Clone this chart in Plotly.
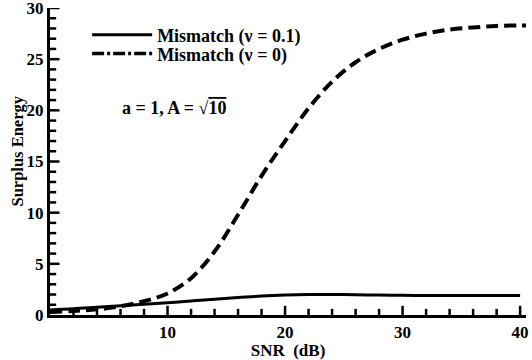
import plotly.graph_objects as go

snr = [0, 2, 4, 6, 8, 10, 12, 14, 16, 18, 20, 22, 24, 26, 28, 30, 32, 34, 36, 38, 40, 40.5]
mismatch_v0 = [0.3, 0.4, 0.55, 0.85, 1.35, 2.1, 3.6, 6.2, 9.8, 13.6, 17.0, 20.2, 22.8, 24.7, 26.0, 26.9, 27.5, 27.9, 28.1, 28.25, 28.3, 28.3]
snr_s = [0, 2, 4, 6, 8, 10, 12, 14, 16, 18, 20, 22, 24, 26, 28, 30, 32, 34, 36, 38, 40]
mismatch_v01 = [0.5, 0.6, 0.75, 0.9, 1.05, 1.2, 1.38, 1.55, 1.7, 1.85, 1.95, 2.0, 2.0, 1.98, 1.95, 1.93, 1.9, 1.9, 1.9, 1.9, 1.9]

x_ticks = [10, 20, 30, 40]
x_major = [10, 20, 30, 40]
x_minor = [2, 4, 6, 8, 12, 14, 16, 18, 22, 24, 26, 28, 32, 34, 36, 38]
y_major = [5, 10, 15, 20, 25, 30]
y_minor = [1, 2, 3, 4, 6, 7, 8, 9, 11, 12, 13, 14, 16, 17, 18, 19, 21, 22, 23, 24, 26, 27, 28, 29]
X_RANGE = [0, 40.5]
Y_RANGE = [0, 30]
FONT = "Liberation Serif"

fig = go.Figure()
fig.add_trace(go.Scatter(x=snr_s, y=mismatch_v01, mode="lines", showlegend=False,
                         line=dict(color="black", width=3, shape="spline")))
fig.add_trace(go.Scatter(x=snr, y=mismatch_v0, mode="lines", showlegend=False,
                         line=dict(color="black", width=4, shape="spline", dash="12px,6px")))
# legend entries
fig.add_trace(go.Scatter(x=[None], y=[None], mode="lines", name="Mismatch (ν = 0.1)",
                         legend="legend", line=dict(color="black", width=3)))
fig.add_trace(go.Scatter(x=[None], y=[None], mode="lines", name="Mismatch (ν = 0)",
                         legend="legend2", line=dict(color="black", width=3.5, dash="12px,3px,3px,3px")))

leg_common = dict(xanchor="left", yanchor="top", bgcolor="rgba(0,0,0,0)",
                  font=dict(family=FONT, size=18, color="black", weight="bold"), itemwidth=60)

fig.update_layout(
    template="none",
    width=532, height=360,
    margin=dict(l=50, r=6, t=7.5, b=45),
    plot_bgcolor="white", paper_bgcolor="white",
    font=dict(family=FONT, size=16, color="black"),
    showlegend=True,
    legend=dict(x=0.078, y=0.972, **leg_common),
    legend2=dict(x=0.078, y=0.911, **leg_common),
    xaxis=dict(range=X_RANGE, tickmode="array", tickvals=x_ticks, ticks="",
               showline=True, linewidth=3, linecolor="black",
               showgrid=False, zeroline=False,
               tickfont=dict(family=FONT, size=17, weight="bold"),
               title=dict(text="SNR  (dB)", font=dict(family=FONT, size=17, weight="bold"), standoff=1)),
    yaxis=dict(range=Y_RANGE, tickmode="linear", tick0=0, dtick=5, ticks="",
               showline=True, linewidth=3, linecolor="black", showgrid=False,
               zeroline=False, ticklabeloverflow="allow",
               tickfont=dict(family=FONT, size=17, weight="bold")),
)

# tick marks pointing into the plot, placed through the axis scales
TICK_STYLE = dict(type="line", line=dict(color="black", width=2.5), layer="above")
for t in x_major:
    fig.add_shape(xref="x", yref="y domain", x0=t, x1=t, y0=0, y1=0.03, **TICK_STYLE)
for t in x_minor:
    fig.add_shape(xref="x", yref="y domain", x0=t, x1=t, y0=0, y1=0.02, **TICK_STYLE)
for t in y_major:
    fig.add_shape(xref="x domain", yref="y", x0=0, x1=0.02, y0=t, y1=t, **TICK_STYLE)
for t in y_minor:
    fig.add_shape(xref="x domain", yref="y", x0=0, x1=0.013, y0=t, y1=t, **TICK_STYLE)

fig.add_annotation(x=-0.069, y=0.533, xref="paper", yref="paper", xanchor="center", yanchor="middle",
                   showarrow=False, textangle=-90, text="Surplus Energy",
                   font=dict(family=FONT, size=16.5, color="black", weight="bold"))

fig.add_annotation(x=0.26, y=0.673, xref="paper", yref="paper", xanchor="center", yanchor="middle",
                   showarrow=False,
                   text="a = 1, A = √<span style='text-decoration:overline'>10</span>",
                   font=dict(family=FONT, size=18, color="black", weight="bold"))

fig.write_html("out.html")
